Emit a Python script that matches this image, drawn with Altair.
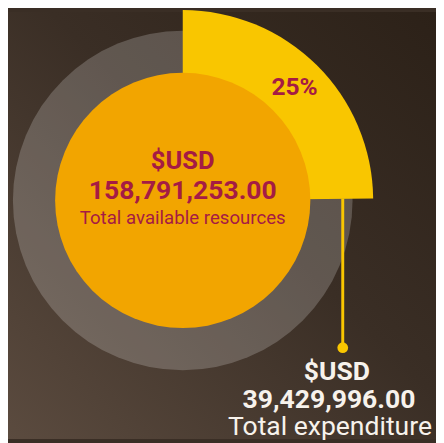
import altair as alt
import pandas as pd

# ---- data ----
total_available = 158791253.00
total_expenditure = 39429996.00
parts = ["Total expenditure", "Remaining"]
part_values = [total_expenditure, total_available - total_expenditure]
center_caption = "Total available resources"
side_caption = "Total expenditure"
currency = "$USD"

pct_label = f"{total_expenditure / total_available:.0%}"

slices = pd.DataFrame({
    "part": parts,
    "value": part_values,
    "order": [0, 1],
    "label": [pct_label, ""],
})
whole = pd.DataFrame({"value": [total_available]})
one = pd.DataFrame({"k": [0]})

# ---- layout ----
W, H = 436, 435
CX, CY = 178, 192
YELLOW = "#f9c600"
ORANGE = "#f2a500"
CRIMSON = "#a51b44"
WHITE = "#f7f2ec"
FONT = "Roboto"

bg = alt.Chart(one).mark_rect(
    color=alt.LinearGradient(
        gradient="linear",
        stops=[alt.GradientStop(offset=0, color="#2c2118"),
               alt.GradientStop(offset=0.45, color="#3a2e25"),
               alt.GradientStop(offset=1, color="#5b4b3f")],
        x1=1, y1=0, x2=0, y2=1,
    )
).encode(x=alt.value(0), x2=alt.value(W), y=alt.value(0), y2=alt.value(H))

ring = alt.Chart(whole).mark_arc(radius=173, color="white", opacity=0.2).encode(
    theta=alt.Theta("value:Q"), x=alt.value(CX), y=alt.value(CY)
)

wedge = alt.Chart(slices).mark_arc(radius=194).encode(
    theta=alt.Theta("value:Q", stack=True),
    order=alt.Order("order:Q"),
    color=alt.Color("part:N", scale=alt.Scale(domain=parts, range=[YELLOW, "transparent"]), legend=None),
    x=alt.value(CX), y=alt.value(CY),
)

pct = alt.Chart(slices).mark_text(
    radius=162, font=FONT, fontWeight="bold", fontSize=25, color=CRIMSON, baseline="middle"
).encode(
    theta=alt.Theta("value:Q", stack=True),
    order=alt.Order("order:Q"),
    text="label:N",
    x=alt.value(CX), y=alt.value(CY),
)

inner = alt.Chart(whole).mark_arc(radius=130, color=ORANGE).encode(
    theta=alt.Theta("value:Q"), x=alt.value(CX), y=alt.value(CY)
)

leader = alt.Chart(one).mark_rule(color=YELLOW, strokeWidth=3).encode(
    x=alt.value(341), y=alt.value(190), y2=alt.value(342)
)
dot = alt.Chart(one).mark_circle(color=YELLOW, opacity=1, size=120).encode(
    x=alt.value(341), y=alt.value(342)
)

def label(txt, x, y, size, weight, color):
    return alt.Chart(one).mark_text(
        text=txt, font=FONT, fontSize=size, fontWeight=weight, color=color,
        align="center", baseline="middle"
    ).encode(x=alt.value(x), y=alt.value(y))

c1 = label(currency, CX, 152, 26, "bold", CRIMSON)
c2 = label(f"{total_available:,.2f}", CX, 182, 27, "bold", CRIMSON)
c3 = label(center_caption, CX, 210, 19, "normal", CRIMSON)

s1 = label(currency, 335, 367, 27, "bold", WHITE)
s2 = label(f"{total_expenditure:,.2f}", 327, 395, 27, "bold", WHITE)
s3 = label(side_caption, 328, 423, 27, "normal", WHITE)

chart = alt.layer(bg, ring, wedge, inner, pct, leader, dot, c1, c2, c3, s1, s2, s3).properties(
    width=W, height=H, padding=0, autosize=alt.AutoSizeParams(type="none"),
    background="#3a2e25",
).configure_view(stroke=None)

chart.save("out.html", embed_options={"renderer": "svg", "actions": False})
